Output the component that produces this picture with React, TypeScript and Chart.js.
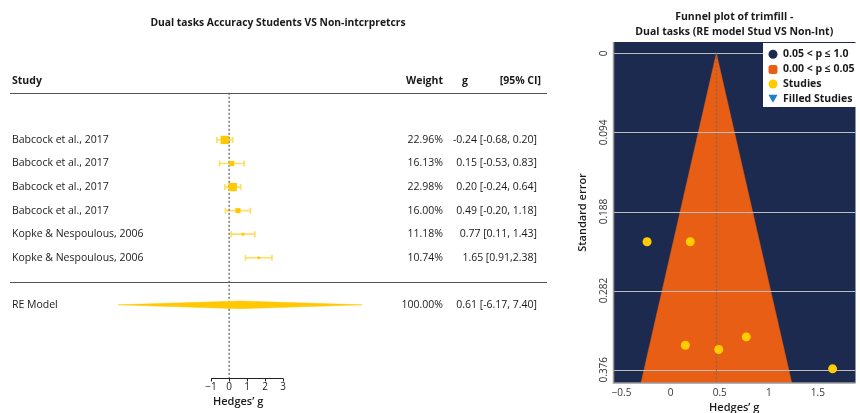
import React, { useEffect, useRef } from "react";
import { Chart, registerables } from "chart.js";

Chart.register(...registerables);

// ---------- Forest plot data ----------
const studyNames = [
  "Babcock et al., 2017",
  "Babcock et al., 2017",
  "Babcock et al., 2017",
  "Babcock et al., 2017",
  "Kopke & Nespoulous, 2006",
  "Kopke & Nespoulous, 2006",
];
const effects = [-0.24, 0.15, 0.2, 0.49, 0.77, 1.65];
const ciLower = [-0.68, -0.53, -0.24, -0.2, 0.11, 0.91];
const ciUpper = [0.2, 0.83, 0.64, 1.18, 1.43, 2.38];
const weights = [22.96, 16.13, 22.98, 16.0, 11.18, 10.74];
const weightLabels = ["22.96%", "16.13%", "22.98%", "16.00%", "11.18%", "10.74%"];
const ciLabels = [
  "-0.24 [-0.68, 0.20]",
  "0.15 [-0.53, 0.83]",
  "0.20 [-0.24, 0.64]",
  "0.49 [-0.20, 1.18]",
  "0.77 [0.11, 1.43]",
  "1.65 [0.91,2.38]",
];
const reEstimate = 0.61;
const reLower = -6.17;
const reUpper = 7.4;
const reWeightLabel = "100.00%";
const reCiLabel = "0.61 [-6.17, 7.40]";
const forestTicks = [-1, 0, 1, 2, 3];
const forestTickLabels = ["\u22121", "0", "1", "2", "3"];

// ---------- Funnel plot data ----------
const funnelG = [-0.24, 0.15, 0.2, 0.49, 0.77, 1.65];
const funnelSE = [0.224, 0.347, 0.224, 0.352, 0.337, 0.375];
const funnelCenter = 0.466;
const funnelSeMax = 0.392;
const seTicks = [0, 0.094, 0.188, 0.282, 0.376];
const seTickLabels = ["0", "0.094", "0.188", "0.282", "0.376"];
const gTicks = [-0.5, 0, 0.5, 1, 1.5];
const gTickLabels = ["\u22120.5", "0", "0.5", "1", "1.5"];
const legendLabels = ["0.05 < p \u2264 1.0", "0.00 < p \u2264 0.05", "Studies", "Filled Studies"];

const FONT = "'Open Sans', 'DejaVu Sans', sans-serif";
const GOLD = "#FFC800";
const NAVY = "#1B2A4E";
const ORANGE = "#E85E14";

// row layout (in row units for the forest y-scale)
const ROW_TITLE = -3.95;
const ROW_HEADER = -1.52;
const ROW_HEADER_LINE = -1.0;
const ROW_RE_LINE = 7.02;
const ROW_RE = 8;
const ROW_AXIS = 11.1;
const ROW_TICKLBL = 11.5;
const ROW_XTITLE = 12.1;

function squareRadius(w: number) {
  const side = 2.7 + (w - 11) * 0.47;
  return side / Math.SQRT2;
}

function ForestChart() {
  const ref = useRef<HTMLCanvasElement>(null);
  useEffect(() => {
    if (!ref.current) return;
    const plugin = {
      id: "forestDecor",
      beforeDatasetsDraw(chart: any) {
        const { ctx } = chart;
        const x = chart.scales.x;
        const y = chart.scales.y;
        ctx.save();
        ctx.strokeStyle = "rgba(255,200,0,0.6)";
        ctx.lineWidth = 1.7;
        effects.forEach((_, i) => {
          const py = y.getPixelForValue(i + 1);
          const x1 = x.getPixelForValue(ciLower[i]);
          const x2 = x.getPixelForValue(ciUpper[i]);
          ctx.beginPath();
          ctx.moveTo(x1, py);
          ctx.lineTo(x2, py);
          ctx.moveTo(x1, py - 3);
          ctx.lineTo(x1, py + 3);
          ctx.moveTo(x2, py - 3);
          ctx.lineTo(x2, py + 3);
          ctx.stroke();
        });
        ctx.restore();
      },
      afterDraw(chart: any) {
        const { ctx } = chart;
        const x = chart.scales.x;
        const y = chart.scales.y;
        ctx.save();
        ctx.fillStyle = "#1a1a1a";
        ctx.textBaseline = "middle";
        // title
        ctx.font = `bold 10.3px ${FONT}`;
        ctx.textAlign = "center";
        ctx.fillText("Dual tasks Accuracy Students VS Non-intcrpretcrs", 278, y.getPixelForValue(ROW_TITLE));
        // header
        ctx.font = `bold 10.5px ${FONT}`;
        const hy = y.getPixelForValue(ROW_HEADER);
        ctx.textAlign = "left";
        ctx.fillText("Study", 12, hy);
        ctx.textAlign = "right";
        ctx.fillText("Weight", 443, hy);
        ctx.textAlign = "center";
        ctx.fillText("g", 465, hy);
        ctx.textAlign = "right";
        ctx.fillText("[95% CI]", 541, hy);
        // lines
        ctx.strokeStyle = "#555";
        ctx.lineWidth = 1.2;
        [ROW_HEADER_LINE, ROW_RE_LINE].forEach((r) => {
          const ly = Math.round(y.getPixelForValue(r)) + 0.5;
          ctx.beginPath();
          ctx.moveTo(10, ly);
          ctx.lineTo(547, ly);
          ctx.stroke();
        });
        // rows
        ctx.font = `10.5px ${FONT}`;
        studyNames.forEach((name, i) => {
          const py = y.getPixelForValue(i + 1);
          ctx.textAlign = "left";
          ctx.fillText(name, 12, py);
          ctx.textAlign = "right";
          ctx.fillText(weightLabels[i], 443, py);
          ctx.fillText(ciLabels[i], 537, py);
        });
        const ry = y.getPixelForValue(ROW_RE);
        ctx.textAlign = "left";
        ctx.fillText("RE Model", 12, ry);
        ctx.textAlign = "right";
        ctx.fillText(reWeightLabel, 443, ry);
        ctx.fillText(reCiLabel, 537, ry);
        // axis
        const ay = Math.round(y.getPixelForValue(ROW_AXIS)) + 0.5;
        ctx.strokeStyle = "#222";
        ctx.lineWidth = 1;
        ctx.beginPath();
        ctx.moveTo(x.getPixelForValue(forestTicks[0]), ay);
        ctx.lineTo(x.getPixelForValue(forestTicks[forestTicks.length - 1]), ay);
        forestTicks.forEach((t) => {
          const px = Math.round(x.getPixelForValue(t)) + 0.5;
          ctx.moveTo(px, ay);
          ctx.lineTo(px, ay + 3);
        });
        ctx.stroke();
        ctx.font = `10px ${FONT}`;
        ctx.textAlign = "center";
        forestTicks.forEach((t, i) => {
          ctx.fillText(forestTickLabels[i], x.getPixelForValue(t), y.getPixelForValue(ROW_TICKLBL));
        });
        ctx.font = `600 11px ${FONT}`;
        ctx.fillText("Hedges\u2019 g", x.getPixelForValue(0.5), y.getPixelForValue(ROW_XTITLE));
        ctx.restore();
      },
    };
    const dh = 0.165;
    const chart = new Chart(ref.current, {
      type: "scatter",
      data: {
        datasets: [
          {
            type: "scatter",
            data: effects.map((g, i) => ({ x: g, y: i + 1 })),
            pointStyle: "rect",
            pointRadius: weights.map(squareRadius),
            backgroundColor: GOLD,
            borderWidth: 0,
            order: 0,
          },
          {
            type: "line",
            data: [
              { x: reLower, y: ROW_RE },
              { x: reEstimate, y: ROW_RE - dh },
              { x: reUpper, y: ROW_RE },
              { x: reEstimate, y: ROW_RE + dh },
              { x: reLower, y: ROW_RE },
            ],
            fill: "shape",
            backgroundColor: GOLD,
            borderColor: GOLD,
            borderWidth: 0.5,
            pointRadius: 0,
            tension: 0,
            order: 1,
          },
          {
            type: "line",
            data: [
              { x: 0, y: ROW_HEADER_LINE },
              { x: 0, y: ROW_AXIS },
            ],
            borderColor: "#333",
            borderWidth: 1,
            borderDash: [2, 2],
            pointRadius: 0,
            fill: false,
            order: 2,
          },
        ] as any,
      },
      options: {
        animation: false,
        responsive: false,
        maintainAspectRatio: false,
        devicePixelRatio: 1,
        layout: { padding: 0 },
        plugins: { legend: { display: false }, tooltip: { enabled: false } },
        scales: {
          x: { type: "linear", min: -228 / 18.4, max: (560 - 228) / 18.4, display: false },
          y: { type: "linear", min: 1 - 138 / 24.25, max: 1 + (413 - 138) / 24.25, reverse: true, display: false },
        },
      } as any,
      plugins: [plugin],
    });
    return () => chart.destroy();
  }, []);
  return <canvas ref={ref} width={560} height={413} style={{ display: "block" }} />;
}

function FunnelChart() {
  const ref = useRef<HTMLCanvasElement>(null);
  useEffect(() => {
    if (!ref.current) return;
    const plugin = {
      id: "funnelDecor",
      beforeDraw(chart: any) {
        const { ctx, chartArea } = chart;
        ctx.save();
        ctx.fillStyle = NAVY;
        ctx.fillRect(chartArea.left, chartArea.top, chartArea.right - chartArea.left, chartArea.bottom - chartArea.top);
        ctx.restore();
      },
      afterDatasetDraw(chart: any, args: any) {
        if (args.index !== 2) return;
        const { ctx, chartArea } = chart;
        const y = chart.scales.y;
        ctx.save();
        ctx.strokeStyle = "#BDBDBD";
        ctx.lineWidth = 1.2;
        seTicks.forEach((t) => {
          const py = Math.round(y.getPixelForValue(t)) + 0.5;
          ctx.beginPath();
          ctx.moveTo(chartArea.left, py);
          ctx.lineTo(chartArea.right, py);
          ctx.stroke();
        });
        ctx.restore();
      },
      afterDraw(chart: any) {
        const { ctx, chartArea } = chart;
        const x = chart.scales.x;
        const y = chart.scales.y;
        ctx.save();
        // borders
        ctx.strokeStyle = "#9a9a9a";
        ctx.lineWidth = 1.5;
        ctx.beginPath();
        ctx.moveTo(chartArea.left + 0.5, chartArea.top);
        ctx.lineTo(chartArea.left + 0.5, chartArea.bottom);
        ctx.lineTo(chartArea.right, chartArea.bottom);
        ctx.stroke();
        // titles
        ctx.fillStyle = "#1a1a1a";
        ctx.textBaseline = "middle";
        ctx.textAlign = "center";
        ctx.font = `bold 10.5px ${FONT}`;
        const cx = (chartArea.left + chartArea.right) / 2;
        ctx.fillText("Funnel plot of trimfill -", cx, 17);
        ctx.fillText("Dual tasks (RE model Stud VS Non-Int)", cx, 32);
        // y tick labels
        ctx.font = `10px ${FONT}`;
        ctx.fillStyle = "#333";
        seTicks.forEach((t, i) => {
          ctx.save();
          ctx.translate(chartArea.left - 9, y.getPixelForValue(t));
          ctx.rotate(-Math.PI / 2);
          ctx.textAlign = "center";
          ctx.fillText(seTickLabels[i], 0, 0);
          ctx.restore();
        });
        // y title
        ctx.save();
        ctx.translate(chartArea.left - 30, (chartArea.top + chartArea.bottom) / 2);
        ctx.rotate(-Math.PI / 2);
        ctx.font = `600 11px ${FONT}`;
        ctx.fillStyle = "#1a1a1a";
        ctx.textAlign = "center";
        ctx.fillText("Standard error", 0, 0);
        ctx.restore();
        // x tick labels
        ctx.textAlign = "center";
        ctx.font = `10px ${FONT}`;
        gTicks.forEach((t, i) => {
          ctx.fillText(gTickLabels[i], x.getPixelForValue(t), chartArea.bottom + 10);
        });
        ctx.font = `600 11px ${FONT}`;
        ctx.fillStyle = "#1a1a1a";
        ctx.fillText("Hedges\u2019 g", cx, chartArea.bottom + 25);
        // legend
        const lx = 203;
        const ly = 43;
        ctx.fillStyle = "#fff";
        ctx.fillRect(lx, ly, 300 - lx, 64);
        const rows = [54.3, 69.5, 84, 98.7];
        ctx.font = `bold 10.5px ${FONT}`;
        ctx.textAlign = "left";
        rows.forEach((ry, i) => {
          const mx = lx + 10;
          if (i === 0) {
            ctx.fillStyle = NAVY;
            ctx.beginPath();
            ctx.arc(mx, ry, 4.5, 0, Math.PI * 2);
            ctx.fill();
          } else if (i === 1) {
            ctx.fillStyle = ORANGE;
            ctx.beginPath();
            (ctx as any).roundRect(mx - 4.5, ry - 4.5, 9, 9, 2.5);
            ctx.fill();
          } else if (i === 2) {
            ctx.fillStyle = "#FFCC00";
            ctx.beginPath();
            ctx.arc(mx, ry, 4.5, 0, Math.PI * 2);
            ctx.fill();
          } else {
            ctx.fillStyle = "#1E7FC4";
            ctx.beginPath();
            ctx.moveTo(mx - 4.5, ry - 4);
            ctx.lineTo(mx + 4.5, ry - 4);
            ctx.lineTo(mx, ry + 4);
            ctx.closePath();
            ctx.fill();
          }
          ctx.fillStyle = "#1a1a1a";
          ctx.fillText(legendLabels[i], lx + 20, ry);
        });
        ctx.restore();
      },
    };
    const chart = new Chart(ref.current, {
      type: "scatter",
      data: {
        datasets: [
          {
            type: "scatter",
            data: funnelG.map((g, i) => ({ x: g, y: funnelSE[i] })),
            pointRadius: 4.5,
            backgroundColor: "#FFCC00",
            borderWidth: 0,
            order: 0,
          },
          {
            type: "line",
            data: [
              { x: funnelCenter, y: 0 },
              { x: funnelCenter, y: 0.42 },
            ],
            borderColor: "#6b6b6b",
            borderWidth: 1,
            borderDash: [2, 2],
            pointRadius: 0,
            fill: false,
            order: 1,
          },
          {
            type: "line",
            data: [
              { x: funnelCenter, y: 0 },
              { x: funnelCenter + 1.96 * funnelSeMax, y: funnelSeMax },
              { x: funnelCenter - 1.96 * funnelSeMax, y: funnelSeMax },
              { x: funnelCenter, y: 0 },
            ],
            fill: "shape",
            backgroundColor: ORANGE,
            borderColor: ORANGE,
            borderWidth: 0.5,
            pointRadius: 0,
            tension: 0,
            order: 2,
          },
        ] as any,
      },
      options: {
        animation: false,
        responsive: false,
        maintainAspectRatio: false,
        devicePixelRatio: 1,
        layout: { padding: { left: 53, top: 42, right: 0, bottom: 30 } },
        plugins: { legend: { display: false }, tooltip: { enabled: false } },
        scales: {
          x: { type: "linear", min: -0.587, max: 1.883, display: false },
          y: { type: "linear", min: -0.01343, max: 0.3918, reverse: true, display: false },
        },
      } as any,
      plugins: [plugin],
    });
    return () => chart.destroy();
  }, []);
  return <canvas ref={ref} width={300} height={413} style={{ display: "block" }} />;
}

export default function App() {
  return (
    <div style={{ position: "absolute", left: 0, top: 0, width: 860, height: 413, display: "flex", background: "#fff" }}>
      <ForestChart />
      <FunnelChart />
    </div>
  );
}
